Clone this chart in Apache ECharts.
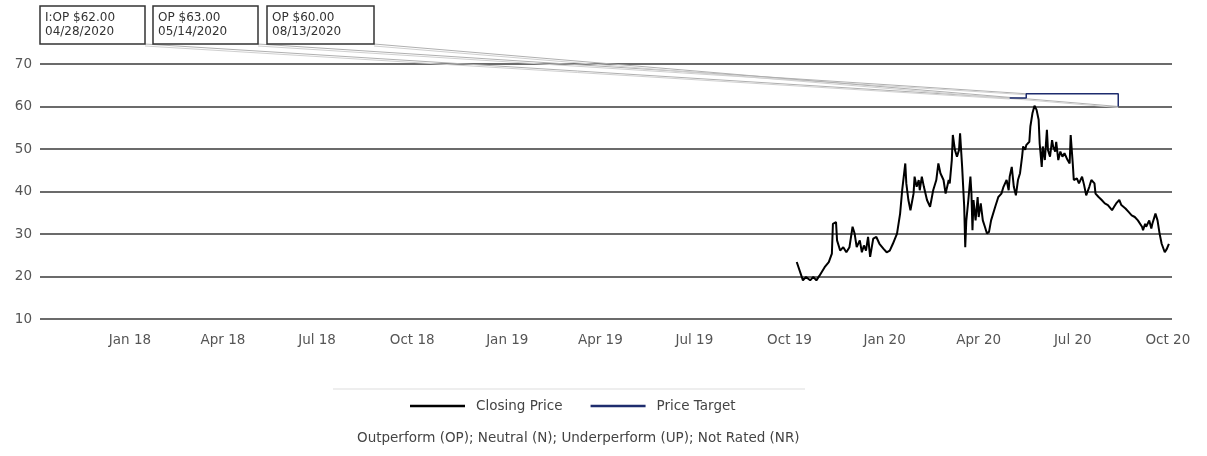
<!DOCTYPE html>
<html>
<head>
<meta charset="utf-8">
<script src="https://cdn.jsdelivr.net/npm/echarts@6/dist/echarts.min.js"></script>
<style>
html,body{margin:0;padding:0;background:#fff;}
#chart{width:1207px;height:456px;}
</style>
</head>
<body>
<div id="chart"></div>
<script>
// ---- data ----
const closeDates = [
'2019-10-08','2019-10-14','2019-10-17','2019-10-21','2019-10-24','2019-10-27','2019-10-30','2019-11-04','2019-11-08','2019-11-11',
'2019-11-12','2019-11-15','2019-11-16','2019-11-19','2019-11-22','2019-11-25','2019-11-28','2019-12-01','2019-12-03','2019-12-05',
'2019-12-08','2019-12-10','2019-12-12','2019-12-14','2019-12-16','2019-12-18','2019-12-21','2019-12-24','2019-12-27','2019-12-31',
'2020-01-03','2020-01-06','2020-01-09','2020-01-13','2020-01-16','2020-01-18','2020-01-21','2020-01-22','2020-01-24','2020-01-26',
'2020-01-29','2020-01-30','2020-02-01','2020-02-03','2020-02-04','2020-02-06','2020-02-08','2020-02-11','2020-02-14','2020-02-17',
'2020-02-20','2020-02-22','2020-02-24','2020-02-27','2020-02-29','2020-03-03','2020-03-04','2020-03-06','2020-03-07','2020-03-09',
'2020-03-11','2020-03-13','2020-03-14','2020-03-16','2020-03-18','2020-03-19','2020-03-20','2020-03-22','2020-03-24','2020-03-25',
'2020-03-26','2020-03-27','2020-03-29','2020-03-31','2020-04-01','2020-04-03','2020-04-05','2020-04-07','2020-04-09','2020-04-11',
'2020-04-13','2020-04-17','2020-04-20','2020-04-23','2020-04-25','2020-04-28','2020-04-30','2020-05-01','2020-05-03','2020-05-05',
'2020-05-07','2020-05-09','2020-05-11','2020-05-13','2020-05-14','2020-05-16','2020-05-17','2020-05-20','2020-05-21','2020-05-23',
'2020-05-25','2020-05-27','2020-05-29','2020-05-30','2020-06-01','2020-06-02','2020-06-04','2020-06-06','2020-06-07','2020-06-09',
'2020-06-11','2020-06-12','2020-06-14','2020-06-15','2020-06-17','2020-06-19','2020-06-21','2020-06-23','2020-06-26','2020-06-28',
'2020-06-29','2020-07-01','2020-07-02','2020-07-05','2020-07-07','2020-07-10','2020-07-12','2020-07-14','2020-07-17','2020-07-19',
'2020-07-22','2020-07-23','2020-07-26','2020-07-29','2020-08-01','2020-08-04','2020-08-08','2020-08-10','2020-08-12','2020-08-15',
'2020-08-17','2020-08-21','2020-08-24','2020-08-27','2020-08-30','2020-09-02','2020-09-06','2020-09-07','2020-09-09','2020-09-10',
'2020-09-13','2020-09-15','2020-09-16','2020-09-19','2020-09-21','2020-09-23','2020-09-25','2020-09-28','2020-09-30','2020-10-02'
];
const closeValues = [
23.4,19.1,19.9,19.1,19.9,19.1,20.2,22.2,23.4,25.4,
32.4,32.8,28.5,26.1,26.9,25.7,26.9,31.7,30.1,26.9,
28.5,25.7,27.3,26.1,29.3,24.6,28.9,29.3,27.7,26.5,
25.7,26.1,27.7,30.1,34.8,40.3,46.6,41.9,38.0,35.6,
39.5,43.5,41.1,42.7,40.3,43.5,41.1,38.0,36.4,40.3,
42.7,46.6,44.3,42.7,39.5,42.7,41.9,47.4,53.3,49.8,
48.2,49.8,53.7,45.8,36.4,26.9,33.0,38.0,43.5,39.5,
30.9,38.0,33.2,38.7,34.0,37.2,33.2,31.7,30.1,30.5,
33.2,36.4,38.7,39.5,41.1,42.7,40.3,43.5,45.8,41.1,
39.1,42.7,44.3,48.2,50.6,49.8,50.9,51.7,55.3,58.4,
60.2,59.2,56.9,51.3,45.8,50.6,47.4,54.5,49.8,48.2,
52.1,50.6,49.4,51.7,47.4,49.4,48.2,49.0,47.4,46.6,
53.3,46.6,42.7,43.1,41.9,43.5,41.5,39.1,41.1,42.7,
41.9,39.5,38.7,38.0,37.2,36.8,35.6,36.4,37.2,38.0,
36.8,36.0,35.2,34.4,34.0,33.2,31.7,30.9,32.4,31.7,
33.2,31.3,32.4,34.8,33.2,30.1,27.7,25.7,26.5,27.7
];
const targetDates = ['2020-05-01','2020-05-17','2020-08-14'];
const targetValues = [62, 63, 60];
const targetLabels = ['I:OP $62.00','OP $63.00','OP $60.00'];
const targetDateLabels = ['04/28/2020','05/14/2020','08/13/2020'];
const yTicks = [10,20,30,40,50,60,70];
const monthNames = ['Jan','Feb','Mar','Apr','May','Jun','Jul','Aug','Sep','Oct','Nov','Dec'];
const legendNames = ['Closing Price','Price Target'];
const footnote = 'Outperform (OP); Neutral (N); Underperform (UP); Not Rated (NR)';

// ---- chart ----
const FONT = '"DejaVu Sans", Verdana, sans-serif';
const chart = echarts.init(document.getElementById('chart'), null, {renderer:'canvas'});
const closeData = closeDates.map((d,i)=>[d, closeValues[i]]);
const targetData = targetDates.map((d,i)=>[d, targetValues[i]]);

const option = {
  animation:false,
  backgroundColor:'#fff',
  grid:{left:40, right:35, top:64, bottom:137, containLabel:false},
  xAxis:{
    type:'time',
    min:'2017-10-06', max:'2020-10-05',
    splitNumber:12,
    axisLine:{show:false}, axisTick:{show:false},
    splitLine:{show:false},
    axisLabel:{
      margin:14, color:'#555', fontSize:13.5, fontFamily:FONT,
      showMinLabel:false,
      formatter:function(v){const d=new Date(v);return monthNames[d.getMonth()]+' '+String(d.getFullYear()).slice(2);}
    }
  },
  yAxis:{
    type:'value', min:yTicks[0], max:yTicks[yTicks.length-1], interval:10,
    axisLine:{show:false}, axisTick:{show:false},
    axisLabel:{margin:8, color:'#555', fontSize:13.5, fontFamily:FONT},
    splitLine:{show:true, lineStyle:{color:'#3a3a3a', width:1.5}}
  },
  legend:{
    data:legendNames.map(n=>({name:n, icon:'rect'})),
    left:405, top:394,
    itemWidth:55, itemHeight:2.5, itemGap:28,
    textStyle:{color:'#444', fontSize:13.5, fontFamily:FONT, padding:[0,0,0,6]}
  },
  series:[
    {name:legendNames[0], type:'line', data:closeData, showSymbol:false, symbol:'none',
     lineStyle:{color:'#000', width:2}, itemStyle:{color:'#000'}, z:3},
    {name:legendNames[1], type:'line', data:targetData, step:'end', showSymbol:false, symbol:'none',
     lineStyle:{color:'#1e2c6e', width:1.5}, itemStyle:{color:'#1e2c6e'}, z:4}
  ]
};
chart.setOption(option);

// annotation boxes and leader lines
const boxes = [{x:40,w:105},{x:153,w:105},{x:267,w:107}];
const boxTop = 6, boxH = 38;
const graphics = [];
graphics.push({type:'line', shape:{x1:333,y1:389,x2:805,y2:389}, style:{stroke:'#ddd', lineWidth:1}, silent:true});
graphics.push({type:'text', x:357, y:431, style:{text:footnote, fill:'#444', font:'13.5px '+FONT}, silent:true});
targetDates.forEach((d,i)=>{
  const p = chart.convertToPixel({gridIndex:0}, [d, targetValues[i]]);
  const b = boxes[i];
  graphics.push({type:'line', shape:{x1:b.x+b.w, y1:boxTop+boxH, x2:p[0], y2:p[1]}, style:{stroke:'#b0b0b0', lineWidth:1}, silent:true, z:1});
  graphics.push({type:'line', shape:{x1:b.x+b.w, y1:boxTop+boxH+2, x2:p[0], y2:p[1]+1}, style:{stroke:'#d0d0d0', lineWidth:1}, silent:true, z:1});
  graphics.push({type:'rect', shape:{x:b.x, y:boxTop, width:b.w, height:boxH}, style:{fill:'#fff', stroke:'#333', lineWidth:1.5}, silent:true, z:10});
  graphics.push({type:'text', x:b.x+5, y:boxTop+5, style:{text:targetLabels[i]+'\n'+targetDateLabels[i], fill:'#333', font:'12px '+FONT, lineHeight:14}, silent:true, z:11});
});
chart.setOption({graphic:graphics});
</script>
</body>
</html>
